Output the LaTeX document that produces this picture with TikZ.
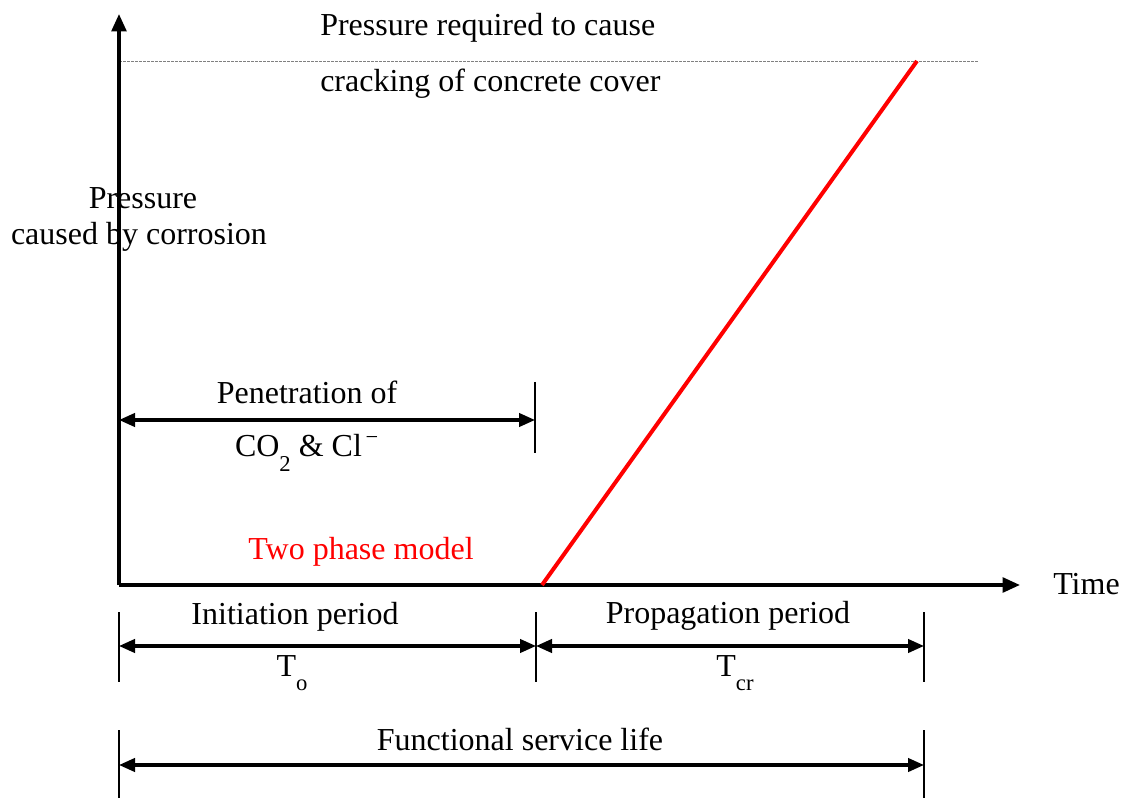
\documentclass[tikz,border=0pt]{standalone}
\usepackage{fontspec}
\setmainfont{Liberation Serif}
\usetikzlibrary{arrows.meta}

\tikzset{
  axis/.style={line width=2.6pt, -{Triangle[length=13pt,width=11pt]}},
  span/.style={line width=2.4pt, {Triangle[length=12pt,width=10pt]}-{Triangle[length=12pt,width=10pt]}},
  tickline/.style={line width=1.3pt},
  label/.style={inner sep=0pt},
}
\newcommand{\lowsub}[1]{\raisebox{-0.45em}{\fontsize{17}{17}\selectfont #1}}

\begin{document}
\begin{tikzpicture}[x=0.75pt, y=-0.75pt, font=\fontsize{24}{28}\selectfont]
    \useasboundingbox (0,0) rectangle (1132,798);

    % axes
    \coordinate (O) at (119, 585);
    \coordinate (yT) at (119, 14);
    \coordinate (xT) at (1020, 585);
    \coordinate (cA) at (119, 61);
    \coordinate (cB) at (978, 61);

    % red line
    \coordinate (r1) at (542, 585);
    \coordinate (r2) at (917, 61);

    % penetration
    \coordinate (pA) at (119, 420);
    \coordinate (pB) at (535, 420);
    \coordinate (pT1) at (535, 382);
    \coordinate (pT2) at (535, 453);

    % periods
    \coordinate (iA) at (119, 646);
    \coordinate (iB) at (536, 646);
    \coordinate (iC) at (924, 646);
    \coordinate (t1a) at (119, 612);
    \coordinate (t1b) at (119, 682);
    \coordinate (t2a) at (536, 612);
    \coordinate (t2b) at (536, 682);
    \coordinate (t3a) at (924, 612);
    \coordinate (t3b) at (924, 682);

    % service life
    \coordinate (fA) at (119, 765);
    \coordinate (fB) at (924, 765);
    \coordinate (f1a) at (119, 730);
    \coordinate (f1b) at (119, 798);
    \coordinate (f2a) at (924, 730);
    \coordinate (f2b) at (924, 798);

    \node (req1) [label, anchor=west] at (320, 28) {Pressure required to cause};
    \node (req2) [label, anchor=west] at (320, 84) {cracking of concrete cover};
    \node (pr1) [label] at (143, 198) {Pressure};
    \node (pr2) [label] at (139, 237) {caused by corrosion};
    \node (pen1) [label] at (307, 392) {Penetration of};
    \node (pen2) [label, anchor=base] at (307, 457) {CO\lowsub{2} \& Cl\textsuperscript{\,−}};
    \node (two) [label, red] at (361, 552) {Two phase model};
    \node (time) [label, anchor=west] at (1053, 584) {Time};
    \node (ini) [label] at (295, 617) {Initiation period};
    \node (To) [label, anchor=base] at (292, 676) {T\lowsub{o}};
    \node (prop) [label] at (728, 616) {Propagation period};
    \node (Tcr) [label, anchor=base] at (735, 676) {T\lowsub{cr}};
    \node (fun) [label] at (520, 739) {Functional service life};

    \draw[gray, line width=0.6pt, dash pattern=on 2pt off 1pt] (cA) -- (cB);
    \draw[axis] (O) -- (yT);
    \draw[axis] (O) -- (xT);
    \draw[red, line width=3pt] (r1) -- (r2);

    \path[tickline]
    (pT1) edge (pT2)
    (t1a) edge (t1b)
    (t2a) edge (t2b)
    (t3a) edge (t3b)
    (f1a) edge (f1b)
    (f2a) edge (f2b);

    \path[span]
    (pA) edge (pB)
    (iA) edge (iB)
    (iB) edge (iC)
    (fA) edge (fB);

\end{tikzpicture}
\end{document}
